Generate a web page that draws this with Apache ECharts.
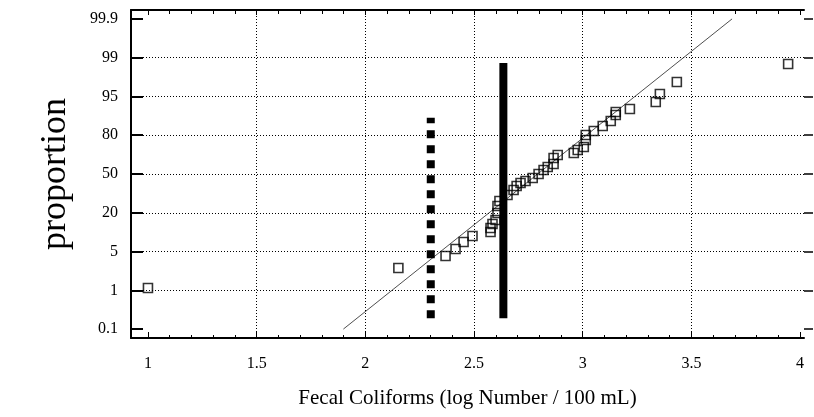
<!DOCTYPE html>
<html>
<head>
<meta charset="utf-8">
<script src="https://cdn.jsdelivr.net/npm/echarts@6/dist/echarts.min.js"></script>
<style>html,body{margin:0;padding:0;background:#fff}#c{width:814px;height:417px}</style>
</head>
<body>
<div id="c"></div>
<script>
// Probability axis: evenly spaced positions 0..8 labelled with these proportions
const probLabels = ['0.1', '1', '5', '20', '50', '80', '95', '99', '99.9'];
const xTickValues = [1, 1.5, 2, 2.5, 3, 3.5, 4];

// Observations: log fecal coliforms vs. probability-axis position
const logFC = [1.000, 2.152, 2.369, 2.415, 2.452, 2.493, 2.576, 2.576, 2.585, 2.599,
  2.608, 2.608, 2.617, 2.654, 2.682, 2.696, 2.714, 2.737, 2.770, 2.797,
  2.820, 2.839, 2.866, 2.866, 2.885, 2.959, 2.977, 3.005, 3.014, 3.014,
  3.051, 3.092, 3.129, 3.152, 3.152, 3.217, 3.336, 3.355, 3.433, 3.945];
const probPos = [1.058, 1.574, 1.884, 2.065, 2.245, 2.400, 2.503, 2.606, 2.710, 2.813,
  2.994, 3.174, 3.303, 3.458, 3.587, 3.690, 3.768, 3.819, 3.897, 4.000,
  4.103, 4.181, 4.258, 4.413, 4.490, 4.542, 4.619, 4.697, 4.877, 5.006,
  5.110, 5.239, 5.368, 5.523, 5.600, 5.677, 5.858, 6.065, 6.374, 6.839];

// Fitted normal line (two end points)
const fitX = [1.899, 3.687];
const fitY = [0, 8];

// Vertical reference bars
const solidBarX = 2.635;
const solidBarY = [0.28, 6.86];
const dashedBarX = 2.301;
const dashedBarY = [0.28, 5.45];

const FONT = 'Liberation Serif';
const chart = echarts.init(document.getElementById('c'));
const isInt = v => Math.abs(v - Math.round(v)) < 1e-6;

chart.setOption({
  animation: false,
  backgroundColor: '#fff',
  grid: { left: 131, right: 10, top: 10, bottom: 79 },
  xAxis: [{
    type: 'value', min: 0.922, max: 4.018, minInterval: 0.5, maxInterval: 0.5,
    position: 'bottom',
    name: 'Fecal Coliforms (log Number / 100 mL)', nameLocation: 'middle', nameGap: 50,
    nameTextStyle: { fontFamily: FONT, fontSize: 21, color: '#000' },
    axisLine: { show: true, onZero: false, lineStyle: { color: '#000', width: 2 } },
    axisTick: { show: true, inside: true, length: 6, customValues: xTickValues, lineStyle: { color: '#000', width: 1 } },
    minorTick: { show: true, splitNumber: 5, length: 3, lineStyle: { color: '#000', width: 1 } },
    axisLabel: { customValues: xTickValues, margin: 18, fontFamily: FONT, fontSize: 16, color: '#000',
      formatter: v => String(v) },
    splitLine: { show: true, showMinLine: false, showMaxLine: false, lineStyle: { color: '#000', width: 1, type: [1, 2] } }
  }, {
    type: 'value', min: 0.922, max: 4.018, minInterval: 0.5, maxInterval: 0.5,
    position: 'top',
    axisLine: { show: true, onZero: false, lineStyle: { color: '#000', width: 2 } },
    axisTick: { show: true, inside: true, length: 5, customValues: xTickValues, lineStyle: { color: '#000', width: 1 } },
    minorTick: { show: true, splitNumber: 5, length: 4, lineStyle: { color: '#000', width: 1 } },
    axisLabel: { show: false },
    splitLine: { show: false }
  }],
  yAxis: [{
    type: 'value', min: -0.23, max: 8.23, minInterval: 1, maxInterval: 1,
    position: 'left',
    name: 'proportion', nameLocation: 'middle', nameGap: 57,
    nameTextStyle: { fontFamily: FONT, fontSize: 36, color: '#000' },
    axisLine: { show: true, onZero: false, lineStyle: { color: '#000', width: 2 } },
    axisTick: { show: true, inside: true, length: 12, customValues: [0,1,2,3,4,5,6,7,8], lineStyle: { color: '#000', width: 2 } },
    axisLabel: { customValues: [0,1,2,3,4,5,6,7,8], margin: 13, fontFamily: FONT, fontSize: 16, color: '#000',
      formatter: v => isInt(v) ? probLabels[Math.round(v)] : '' },
    splitLine: { show: true, showMinLine: false, showMaxLine: false, lineStyle: { color: '#000', width: 1, type: [1, 2] } }
  }, {
    type: 'value', min: -0.23, max: 8.23, minInterval: 1, maxInterval: 1,
    position: 'right',
    axisLine: { show: false },
    axisTick: { show: true, inside: false, length: 9, customValues: [0,1,2,3,4,5,6,7,8], lineStyle: { color: '#000', width: 1.5 } },
    axisLabel: { show: false },
    splitLine: { show: false }
  }],
  series: [{
    type: 'line',
    data: fitX.map((x, i) => [x, fitY[i]]),
    symbol: 'none',
    lineStyle: { color: '#222', width: 0.8 },
    silent: true, z: 2
  }, {
    type: 'scatter',
    data: logFC.map((x, i) => [x, probPos[i]]),
    symbol: 'rect', symbolSize: 9,
    itemStyle: { color: 'rgba(0,0,0,0)', borderColor: '#000', borderWidth: 1.6 },
    z: 3
  }, {
    type: 'line',
    data: solidBarY.map(y => [solidBarX, y]),
    symbol: 'none',
    lineStyle: { color: '#000', width: 8, cap: 'butt' },
    z: 4
  }, {
    type: 'line',
    data: dashedBarY.map(y => [dashedBarX, y]),
    symbol: 'none',
    lineStyle: { color: '#000', width: 8, cap: 'butt', type: [8, 7] },
    z: 4
  }]
});
</script>
</body>
</html>
